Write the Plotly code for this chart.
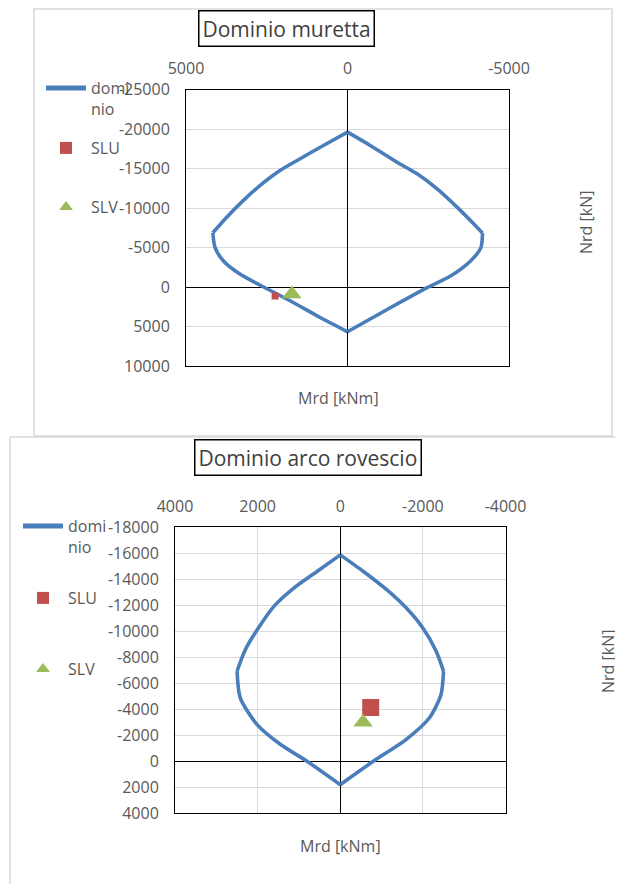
import plotly.graph_objects as go

# the page body adds an 8px offset; the figure is laid out in window pixels
OX, OY = 8, 8
W, H = 623 - OX, 884 - OY

# ---------------- data ----------------
# Dominio muretta (M [kNm], N [kN]); vertices at indices 0, 7, 14, 20, 27
mur_M = [0, 745, 1469, 2090, 2711, 3230, 3746, 4170, 4099, 3840, 3320, 2596, 1765, 831, 0,
         -1326, -2466, -3190, -3810, -4130, -4180, -3913, -3398, -2776, -2155, -1534, -705, 0]
mur_N = [-19600, -17916, -16226, -14740, -12834, -10928, -8806, -6860, -4990, -3300, -1610, 0, 1777, 3892, 5670,
         2627, 85, -1396, -3300, -4990, -6820, -7967, -10076, -12414, -14320, -15795, -17916, -19600]
mur_corners = [0, 7, 14, 20, 27]
mur_slu_M = [2241]
mur_slu_N = [1142]
mur_slv_M = [1723]
mur_slv_N = [900]

# Dominio arco rovescio; vertices at indices 0, 6, 11, 16, 22
arc_M = [0, 562, 1124, 1606, 2007, 2296, 2498, 2421, 2017, 1453, 806, 0,
         -800, -1600, -2160, -2440, -2500, -2322, -2000, -1600, -1124, -562, 0]
arc_N = [-15860, -14582, -13303, -11900, -10115, -8582, -6920, -4872, -2834, -1302, 0, 1800,
         0, -1685, -3340, -5132, -6920, -8452, -10238, -11770, -13180, -14582, -15860]
arc_corners = [0, 6, 11, 16, 22]
arc_slu_M = [-737]
arc_slu_N = [-4136]
arc_slv_M = [-552]
arc_slv_N = [-3000]

# tick labels
mur_xticks = [5000, 0, -5000]
mur_yticks = [-25000, -20000, -15000, -10000, -5000, 0, 5000, 10000]
arc_xticks = [4000, 2000, 0, -2000, -4000]
arc_yticks = [-18000, -16000, -14000, -12000, -10000, -8000, -6000, -4000, -2000, 0, 2000, 4000]

titles = ["Dominio muretta", "Dominio arco rovescio"]
xtitle = "Mrd [kNm]"
ytitle = "Nrd [kN]"
names = ["domi<br>nio", "SLU", "SLV"]

# ---------------- style ----------------
FONT = "Open Sans"
GREY = "#595959"
BLUE = "#4A7EBB"
RED = "#C0504D"
GREEN = "#9BBB59"


def px(x):
    return (x - OX) / W


def py(y):
    return 1 - (y - OY) / H


fig = go.Figure()


def add_domain(M, N, corners, xa, ya, leg):
    for k in range(len(corners) - 1):
        a, b = corners[k], corners[k + 1] + 1
        fig.add_trace(go.Scatter(x=M[a:b], y=N[a:b], mode="lines", name=names[0],
                                 line=dict(color=BLUE, width=3.6, shape="spline", smoothing=0.7),
                                 xaxis=xa, yaxis=ya, legend=leg, showlegend=(k == 0),
                                 legendgroup=leg + "dom"))


# top chart
add_domain(mur_M, mur_N, mur_corners, "x", "y", "legend")
fig.add_trace(go.Scatter(x=mur_slu_M, y=mur_slu_N, mode="markers", name=names[1],
                         marker=dict(symbol="square", size=7, color=RED), xaxis="x", yaxis="y", legend="legend2"))
fig.add_trace(go.Scatter(x=mur_slv_M, y=mur_slv_N, mode="markers", name=names[2],
                         marker=dict(symbol="triangle-up", size=17, color=GREEN), xaxis="x", yaxis="y", legend="legend3"))

# bottom chart
add_domain(arc_M, arc_N, arc_corners, "x2", "y2", "legend4")
fig.add_trace(go.Scatter(x=arc_slu_M, y=arc_slu_N, mode="markers", name=names[1],
                         marker=dict(symbol="square", size=17, color=RED), xaxis="x2", yaxis="y2", legend="legend5"))
fig.add_trace(go.Scatter(x=arc_slv_M, y=arc_slv_N, mode="markers", name=names[2],
                         marker=dict(symbol="triangle-up", size=17, color=GREEN), xaxis="x2", yaxis="y2", legend="legend6"))


def xaxis(dom, ticks, rng):
    return dict(domain=dom, range=rng, side="top", tickvals=ticks, ticktext=[str(t) for t in ticks],
                showgrid=True, gridcolor="#D9D9D9", gridwidth=1,
                zeroline=True, zerolinecolor="#000000", zerolinewidth=1,
                showline=True, mirror=True, linecolor="#000000", linewidth=1,
                ticks="", ticklabelstandoff=8, automargin=False,
                tickfont=dict(family=FONT, size=16, color=GREY), fixedrange=True)


def yaxis(dom, ticks, rng, anchor):
    return dict(domain=dom, range=rng, tickvals=ticks, ticktext=[str(t) for t in ticks],
                showgrid=True, gridcolor="#D9D9D9", gridwidth=1,
                zeroline=True, zerolinecolor="#000000", zerolinewidth=1,
                showline=True, mirror=True, linecolor="#000000", linewidth=1,
                ticks="", ticklabelstandoff=12, anchor=anchor, automargin=False,
                tickfont=dict(family=FONT, size=16, color=GREY), fixedrange=True)


top_x = [px(186), px(509)]
top_y = [py(366), py(89.5)]
bot_x = [px(175), px(505.5)]
bot_y = [py(813.3), py(527)]

leg_common = dict(xanchor="left", yanchor="top", bgcolor="rgba(0,0,0,0)", borderwidth=0,
                  font=dict(family=FONT, size=16, color=GREY), itemwidth=40, valign="top",
                  itemsizing="constant")

fig.update_layout(
    width=W, height=H, margin=dict(l=0, r=0, t=0, b=0, autoexpand=False),
    paper_bgcolor="white", plot_bgcolor="white", showlegend=True,
    xaxis=xaxis(top_x, mur_xticks, [5000, -5000]) | dict(anchor="y"),
    yaxis=yaxis(top_y, mur_yticks, [10000, -25000], "x"),
    xaxis2=xaxis(bot_x, arc_xticks, [4000, -4000]) | dict(anchor="y2"),
    yaxis2=yaxis(bot_y, arc_yticks, [4000, -18000], "x2"),
    legend=dict(x=px(41), y=py(71), **leg_common),
    legend2=dict(x=px(41), y=py(131), **leg_common),
    legend3=dict(x=px(41), y=py(190), **leg_common),
    legend4=dict(x=px(18), y=py(509), **leg_common),
    legend5=dict(x=px(18), y=py(581), **leg_common),
    legend6=dict(x=px(18), y=py(652), **leg_common),
)

# chart-area borders
fig.add_shape(type="rect", xref="paper", yref="paper", x0=px(34), x1=px(612), y0=py(436), y1=py(9),
              line=dict(color="#D9D9D9", width=1.5), layer="below")
fig.add_shape(type="line", xref="paper", yref="paper", x0=px(10), x1=1, y0=py(437), y1=py(437),
              line=dict(color="#D9D9D9", width=1.5))
fig.add_shape(type="line", xref="paper", yref="paper", x0=px(10), x1=px(10), y0=py(437), y1=0,
              line=dict(color="#D9D9D9", width=1.5))

# titles (boxed)
for t, (cx, cy) in zip(titles, [(286.5, 29), (307.5, 457)]):
    fig.add_annotation(text=t, xref="paper", yref="paper", x=px(cx), y=py(cy), showarrow=False,
                       xanchor="center", yanchor="middle",
                       font=dict(family=FONT, size=21, color="#404040"),
                       bordercolor="#000000", borderwidth=1.5, borderpad=3, bgcolor="white")

# axis titles
for (cx, cy) in [(338, 398), (340, 846)]:
    fig.add_annotation(text=xtitle, xref="paper", yref="paper", x=px(cx), y=py(cy), showarrow=False,
                       xanchor="center", yanchor="middle", font=dict(family=FONT, size=16, color=GREY))
for (cx, cy) in [(586, 223), (608, 662)]:
    fig.add_annotation(text=ytitle, xref="paper", yref="paper", x=px(cx), y=py(cy), showarrow=False,
                       textangle=-90, xanchor="center", yanchor="middle",
                       font=dict(family=FONT, size=16, color=GREY))

fig.write_html("out.html")
